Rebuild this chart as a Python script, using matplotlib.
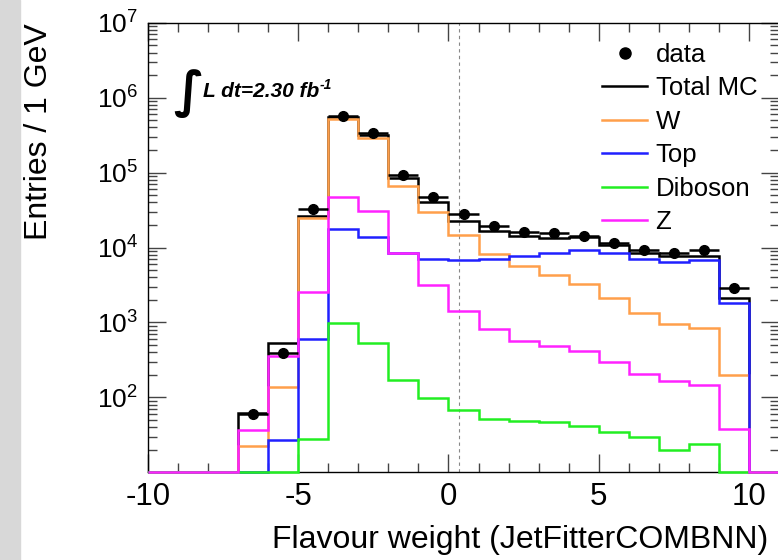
import numpy as np
import matplotlib
matplotlib.use('Agg')
import matplotlib.pyplot as plt
from matplotlib.lines import Line2D
from matplotlib.ticker import MultipleLocator, LogLocator, FuncFormatter

plt.rcParams['font.family'] = ['Liberation Sans', 'DejaVu Sans']

# 1 GeV bins from -7 to 10, outside that everything is empty
edges = np.arange(-7, 11)
data = [60, 385, 32300, 575000, 340000, 92600, 47500, 27900, 19500, 15900,
        15500, 14300, 11550, 9230, 8500, 9230, 2900]
total_mc = [62, 534, 26500, 560000, 316000, 83600, 40700, 22700, 16600, 14200,
            13500, 13800, 10800, 8500, 7750, 7680, 2090]
w = [22.5, 138, 24500, 518000, 291000, 66600, 30000, 14600, 8160, 5650,
     4280, 3250, 2090, 1320, 948, 832, 198]
top = [0, 26.8, 593, 17800, 13900, 8400, 6940, 6790, 7000, 7680,
       8340, 9230, 8340, 7070, 6440, 6790, 1830]
diboson = [0, 0, 27.4, 988, 534, 173, 96.7, 67.5, 50.7, 48,
           46.2, 41.2, 34, 29.7, 19.7, 23.5, 0]
z = [36.5, 358, 2560, 47500, 30600, 8500, 3150, 1430, 806, 562,
     483, 414, 292, 204, 166, 146, 38.4]

XMIN, XMAX = -10, 11
YMIN, YMAX = 10, 1e7
CUT = 0.35

fig = plt.figure(figsize=(7.78, 5.60), dpi=100)
# grey strip on the left border
fig.patches.append(plt.Rectangle((0, 0), 20 / 778, 1, transform=fig.transFigure,
                                 color='#d8d8d8', zorder=0))
ax = fig.add_axes([148 / 778, 1 - 472.3 / 560, 631 / 778, 449.6 / 560])
ax.set_yscale('log')

full_edges = np.concatenate([[XMIN], edges, [XMAX]])


def hist(vals, color, zo):
    # empty bins sit on the lower frame
    v = np.concatenate([[0], vals, [0]])
    v = np.maximum(v, YMIN)
    ax.stairs(v, full_edges, baseline=None, color=color, lw=1.8, zorder=zo,
              clip_on=False)


hist(total_mc, 'black', 2)
hist(w, '#ff9f4a', 3)
hist(top, '#2020ff', 4)
hist(diboson, '#22ee22', 5)
hist(z, '#ff22ff', 6)

data = np.array(data, dtype=float)
centers = edges[:-1] + 0.5
ax.errorbar(centers, data, xerr=0.5, yerr=np.sqrt(data), fmt='o', color='black',
            ms=7, lw=1.8, capsize=0, zorder=10)

ax.axvline(CUT, color='#888888', lw=0.8, ls=(0, (3, 3)), zorder=1)

ax.set_xlim(XMIN, XMAX)
ax.set_ylim(YMIN, YMAX)
ax.xaxis.set_major_locator(MultipleLocator(5))
ax.xaxis.set_minor_locator(MultipleLocator(1))
ax.yaxis.set_major_locator(LogLocator(base=10, numticks=10))
ax.yaxis.set_minor_locator(LogLocator(base=10, subs=np.arange(2, 10), numticks=10))
ax.yaxis.set_major_formatter(FuncFormatter(
    lambda v, p: r'$\mathregular{10^{%d}}$' % round(np.log10(v)) if v >= 100 else ''))
ax.yaxis.set_minor_formatter(FuncFormatter(lambda v, p: ''))
ax.xaxis.set_major_formatter(FuncFormatter(lambda v, p: '%d' % v))
ax.tick_params(which='both', direction='in', top=True, right=True,
               color='#444444', width=1)
ax.tick_params(which='major', length=13)
ax.tick_params(which='minor', length=6.5)
ax.tick_params(axis='x', pad=7, labelsize=22.5)
ax.tick_params(axis='y', pad=7, labelsize=19)
for s in ax.spines.values():
    s.set_linewidth(1)

fig.text(39 / 778, 1 - 23 / 560, 'Entries / 1 GeV', rotation=90, ha='center',
         va='top', fontsize=23)
fig.text(768 / 778, 1 - 540 / 560, 'Flavour weight (JetFitterCOMBNN)', ha='right',
         va='center', fontsize=23)

# luminosity label
ax.text(0.04, 0.843, '\u222b', transform=ax.transAxes, fontsize=36,
        family='DejaVu Sans', fontweight='bold', va='center', ha='left')
lumi = ax.text(0.087, 0.848, 'L dt=2.30 fb', transform=ax.transAxes, fontsize=15,
               fontstyle='italic', fontweight='bold', va='center', ha='left')
ax.annotate('-1', xy=(1, 0.8), xycoords=lumi, fontsize=10, fontstyle='italic',
            fontweight='bold', va='center', ha='left')

handles = [
    Line2D([], [], marker='o', ls='none', color='black', ms=8),
    Line2D([], [], color='black', lw=1.8),
    Line2D([], [], color='#ff9f4a', lw=1.8),
    Line2D([], [], color='#2020ff', lw=1.8),
    Line2D([], [], color='#22ee22', lw=1.8),
    Line2D([], [], color='#ff22ff', lw=1.8),
]
labels = ['data', 'Total MC', 'W', 'Top', 'Diboson', 'Z']
ax.legend(handles, labels, loc='upper left', bbox_to_anchor=(0.72, 0.955),
          frameon=False, fontsize=18.5, handlelength=1.75, handletextpad=0.32,
          labelspacing=0.37, borderpad=0, borderaxespad=0)

fig.savefig('out.png', dpi=100)
